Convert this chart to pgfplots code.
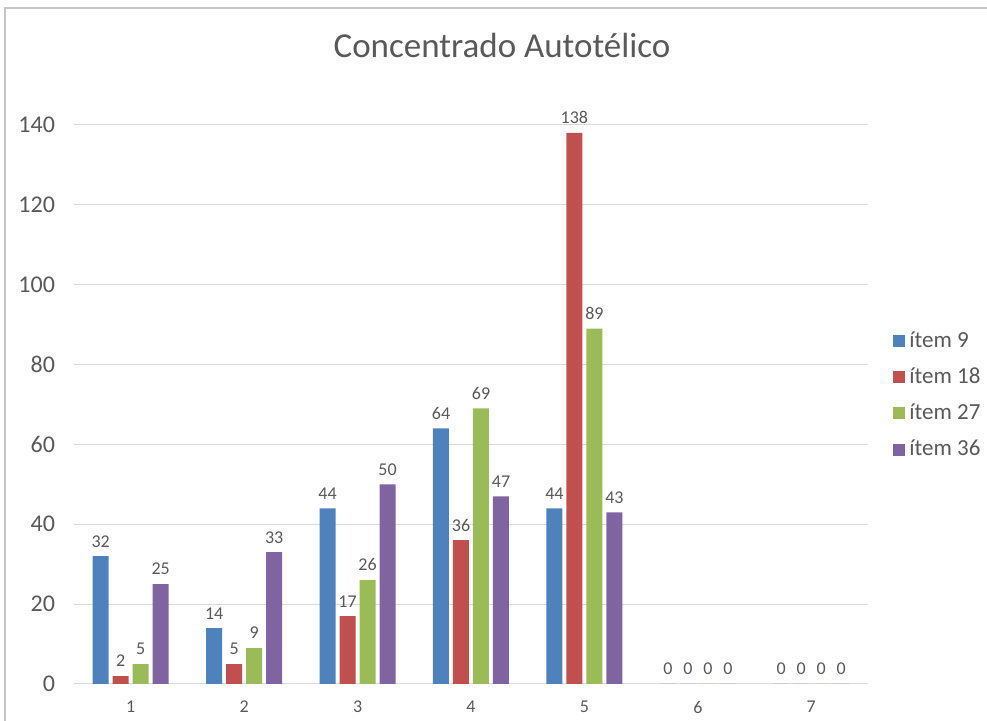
\documentclass[border=0pt]{standalone}
\usepackage{pgfplots}
\pgfplotsset{compat=1.18}
\usepackage{fontspec}
\setmainfont{Carlito}
\definecolor{cBlue}{HTML}{4F81BD}
\definecolor{cRed}{HTML}{C0504D}
\definecolor{cGreen}{HTML}{9BBB59}
\definecolor{cPurple}{HTML}{8064A2}
\definecolor{cText}{HTML}{595959}
\definecolor{cGrid}{HTML}{D9D9D9}
\begin{document}
\begin{tikzpicture}[x=1pt,y=1pt]
\path[use as bounding box] (0,0) rectangle (493.5,360.5);
\draw[gray!45,line width=0.6pt] (2.5,0) -- (2.5,356.5) -- (493.5,356.5);
\node[font=\fontsize{17.5}{20}\selectfont, text=cText] at (251,338) {Concentrado Autotélico};
\begin{axis}[
  at={(37pt,18.5pt)}, anchor=south west,
  scale only axis, width=397pt, height=279.5pt,
  ybar, bar width=8pt,
  ymin=0, ymax=140, xmin=0.5, xmax=7.5,
  xtick={1,...,7}, ytick={0,20,...,140},
  axis line style={draw=none},
  major tick length=0pt,
  ymajorgrids, grid style={cGrid, line width=0.5pt},
  /pgf/number format/assume math mode=true,
  yticklabel style={font=\fontsize{12}{14}\selectfont, text=cText, xshift=-6pt},
  xticklabel style={font=\fontsize{9}{11}\selectfont, text=cText, yshift=-5pt},
  clip=false,
  nodes near coords,
  every node near coord/.append style={font=\fontsize{9}{11}\selectfont, text=cText, /pgf/number format/assume math mode=true, yshift=1pt},
  legend style={at={(1.024,0.645)}, anchor=north west, draw=none, fill=none,
    font=\fontsize{11.5}{13}\selectfont, text=cText, row sep=4.7pt,
    /tikz/every even column/.append style={column sep=2.5pt}},
  legend cell align=left,
  legend image code/.code={\fill[#1] (0pt,-3pt) rectangle (6pt,3pt);},
]
\addplot[fill=cBlue, draw=none] coordinates {(1,32) (2,14) (3,44) (4,64) (5,44) (6,0) (7,0)};
\addplot[fill=cRed, draw=none] coordinates {(1,2) (2,5) (3,17) (4,36) (5,138) (6,0) (7,0)};
\addplot[fill=cGreen, draw=none] coordinates {(1,5) (2,9) (3,26) (4,69) (5,89) (6,0) (7,0)};
\addplot[fill=cPurple, draw=none] coordinates {(1,25) (2,33) (3,50) (4,47) (5,43) (6,0) (7,0)};
\legend{ítem 9, ítem 18, ítem 27, ítem 36}
\end{axis}
\end{tikzpicture}
\end{document}
